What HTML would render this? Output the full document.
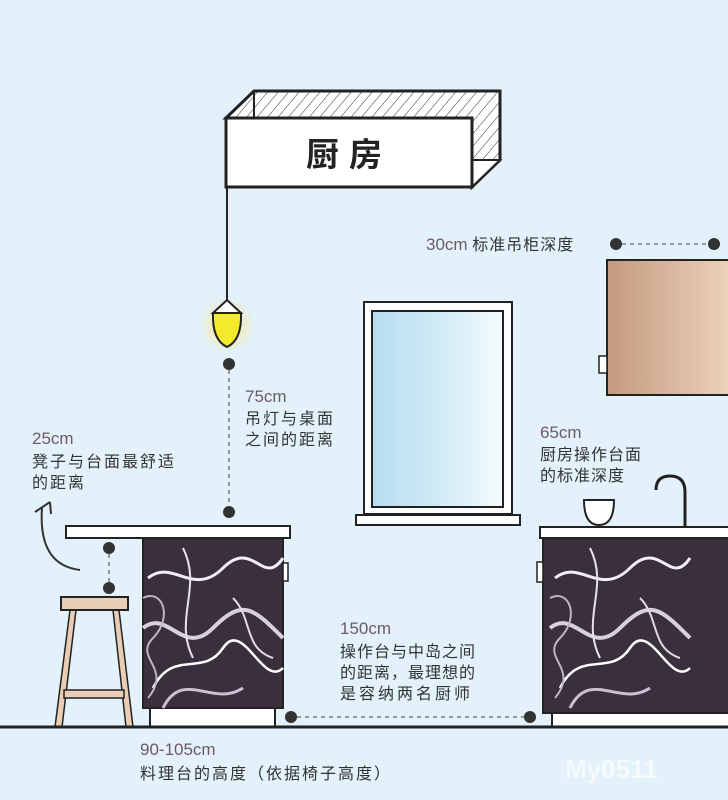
<!DOCTYPE html><html><head><meta charset="utf-8"><style>body{margin:0}svg{display:block}text{font-family:"Liberation Sans","Noto Sans CJK SC",sans-serif}</style></head><body>
<svg width="728" height="800" viewBox="0 0 728 800" xmlns="http://www.w3.org/2000/svg">
<defs>
<pattern id="h" width="8" height="8" patternUnits="userSpaceOnUse" patternTransform="rotate(40)"><rect width="8" height="8" fill="#fff"/><line x1="0" y1="0" x2="0" y2="8" stroke="#333" stroke-width="1"/></pattern>
<linearGradient id="wood" x1="0" x2="1"><stop offset="0" stop-color="#c49a80"/><stop offset="1" stop-color="#ecd3ba"/></linearGradient>
<linearGradient id="glass" x1="0" x2="1"><stop offset="0" stop-color="#b5dcf0"/><stop offset="0.6" stop-color="#d6eef8"/><stop offset="1" stop-color="#f6fbfd"/></linearGradient>
<radialGradient id="glow"><stop offset="0" stop-color="#ffe97a" stop-opacity=".9"/><stop offset="1" stop-color="#ffe97a" stop-opacity="0"/></radialGradient>
<g id="marble"><path d="M5 40 C30 20 50 60 80 30 S120 50 140 20" stroke="#f3eef5" stroke-width="3" fill="none"/><path d="M0 90 C25 70 40 120 70 90 S110 70 140 100" stroke="#d8cfe0" stroke-width="4" fill="none"/><path d="M10 150 C30 110 60 140 80 110 S120 150 140 130" stroke="#fff" stroke-width="2.5" fill="none"/><path d="M20 170 C40 130 70 170 100 150" stroke="#cbbfd4" stroke-width="3" fill="none"/><path d="M40 10 C60 50 30 80 50 120" stroke="#e9e2ee" stroke-width="2" fill="none"/><path d="M0 60 C20 50 30 80 10 100 S30 130 5 160" stroke="#bfb3c8" stroke-width="2" fill="none"/><path d="M90 60 C110 80 100 110 130 120" stroke="#e0d8e6" stroke-width="2" fill="none"/></g>
<g id="dot"><circle r="6" fill="#333"/></g>
</defs>
<rect width="728" height="800" fill="#e2f1fa"/>
<polygon points="226,118 254,91 500,91 500,160 472,187 472,118" fill="url(#h)" stroke="#222" stroke-width="3"/>
<line x1="254" y1="91" x2="254" y2="118" stroke="#222" stroke-width="2"/>
<polygon points="472,160 500,160 472,187" fill="#fff" stroke="#222" stroke-width="2"/>
<rect x="226" y="118" width="246" height="69" fill="#fff" stroke="#222" stroke-width="3"/>
<text x="349" y="166" font-size="33" font-weight="bold" text-anchor="middle" fill="#222" letter-spacing="10">厨房</text>
<line x1="227" y1="187" x2="227" y2="300" stroke="#222" stroke-width="2"/>
<circle cx="227" cy="325" r="28" fill="url(#glow)"/>
<path d="M213 313 L227 300 L241 313 Z" fill="#fff" stroke="#222" stroke-width="2"/>
<path d="M213 313 L241 313 Q242 340 227 347 Q212 340 213 313Z" fill="#f2ea2a" stroke="#222" stroke-width="2"/>
<use href="#dot" x="229" y="364"/><use href="#dot" x="229" y="512"/>
<line x1="229" y1="370" x2="229" y2="506" stroke="#444" stroke-dasharray="4 4"/>
<text x="245" y="402" font-size="17" fill="#6e5a68">75cm</text>
<text x="245" y="424" font-size="16" fill="#333" letter-spacing="2">吊灯与桌面</text>
<text x="245" y="445" font-size="16" fill="#333" letter-spacing="2">之间的距离</text>
<text x="426" y="250" font-size="17" fill="#6e5a68">30cm <tspan fill="#333" font-size="16" letter-spacing="1">标准吊柜深度</tspan></text>
<use href="#dot" x="616" y="244"/><use href="#dot" x="714" y="244"/>
<line x1="622" y1="244" x2="708" y2="244" stroke="#444" stroke-dasharray="4 4"/>
<rect x="607" y="260" width="125" height="135" fill="url(#wood)" stroke="#222" stroke-width="2"/>
<rect x="599" y="356" width="8" height="17" fill="#fff" stroke="#222" stroke-width="1.5"/>
<rect x="364" y="302" width="148" height="212" fill="#fff" stroke="#222" stroke-width="2"/>
<rect x="372" y="311" width="131" height="196" fill="url(#glass)" stroke="#222" stroke-width="2"/>
<rect x="356" y="515" width="164" height="10" fill="#fff" stroke="#222" stroke-width="2"/>
<text x="32" y="444" font-size="17" fill="#6e5a68">25cm</text>
<text x="32" y="467" font-size="16" fill="#333" letter-spacing="2">凳子与台面最舒适</text>
<text x="32" y="488" font-size="16" fill="#333" letter-spacing="2">的距离</text>
<path d="M80 570 Q38 565 42 508" stroke="#333" stroke-width="2" fill="none"/>
<path d="M35 512 L50 502 M50 502 L51 514" stroke="#333" stroke-width="2" fill="none"/>
<rect x="66" y="526" width="224" height="12" fill="#fff" stroke="#222" stroke-width="2"/>
<rect x="150" y="708" width="125" height="19" fill="#fff" stroke="#222" stroke-width="2"/>
<rect x="143" y="538" width="140" height="170" fill="#3a2f3d" stroke="#222" stroke-width="2"/>
<use href="#marble" x="143" y="538"/>
<rect x="283" y="563" width="5" height="18" fill="#fff" stroke="#222" stroke-width="1.5"/>
<use href="#dot" x="109" y="548"/><use href="#dot" x="109" y="588"/>
<line x1="109" y1="554" x2="109" y2="582" stroke="#444" stroke-dasharray="4 4"/>
<polygon points="70,610 76,610 62,727 55,727" fill="#e9cdb5" stroke="#222" stroke-width="1.5"/>
<polygon points="113,610 119,610 133,727 126,727" fill="#e9cdb5" stroke="#222" stroke-width="1.5"/>
<rect x="64" y="690" width="60" height="8" fill="#e9cdb5" stroke="#222" stroke-width="1.5"/>
<rect x="61" y="597" width="67" height="13" fill="#e9cdb5" stroke="#222" stroke-width="2"/>
<text x="540" y="438" font-size="17" fill="#6e5a68">65cm</text>
<text x="540" y="460" font-size="16" fill="#333" letter-spacing="1">厨房操作台面</text>
<text x="540" y="481" font-size="16" fill="#333" letter-spacing="1">的标准深度</text>
<path d="M656 490 Q656 476 670 476 Q685 476 685 492 L685 527" stroke="#222" stroke-width="3" fill="none"/>
<path d="M584 500 L614 500 Q614 525 599 525 Q584 525 584 500Z" fill="#fff" stroke="#222" stroke-width="2"/>
<rect x="540" y="527" width="192" height="11" fill="#fff" stroke="#222" stroke-width="2"/>
<rect x="552" y="713" width="180" height="14" fill="#fff" stroke="#222" stroke-width="2"/>
<rect x="543" y="538" width="190" height="175" fill="#3a2f3d" stroke="#222" stroke-width="2"/>
<use href="#marble" x="550" y="538"/>
<rect x="537" y="562" width="6" height="20" fill="#fff" stroke="#222" stroke-width="1.5"/>
<text x="340" y="634" font-size="17" fill="#6e5a68">150cm</text>
<text x="340" y="657" font-size="16" fill="#333" letter-spacing="1">操作台与中岛之间</text>
<text x="340" y="678" font-size="16" fill="#333" letter-spacing="1">的距离，最理想的</text>
<text x="340" y="699" font-size="16" fill="#333" letter-spacing="3">是容纳两名厨师</text>
<use href="#dot" x="291" y="717"/><use href="#dot" x="530" y="717"/>
<line x1="297" y1="717" x2="524" y2="717" stroke="#444" stroke-dasharray="4 4"/>
<line x1="0" y1="727" x2="728" y2="727" stroke="#222" stroke-width="3"/>
<text x="140" y="755" font-size="17" fill="#6e5a68">90-105cm</text>
<text x="140" y="779" font-size="16" fill="#333" letter-spacing="2">料理台的高度（依据椅子高度）</text>
<text x="565" y="778" font-size="26" font-weight="bold" fill="#fff" opacity=".7">My0511</text>
</svg></body></html>
